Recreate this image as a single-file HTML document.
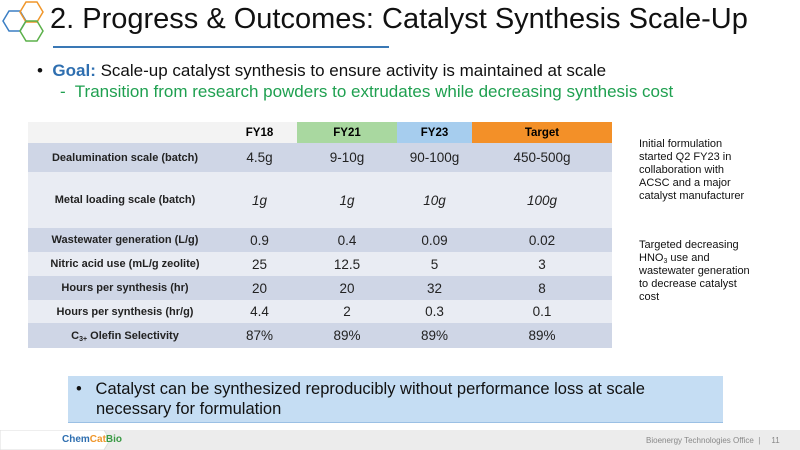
<!DOCTYPE html>
<html><head><meta charset="utf-8"><style>
body{margin:0;width:800px;height:450px;overflow:hidden;background:#fff;font-family:"Liberation Sans",sans-serif;position:relative}
.a{position:absolute}
table{border-collapse:collapse;position:absolute;left:28px;top:122px;width:584px;table-layout:fixed}
td{text-align:center;padding:0;font-size:13.5px;color:#222}
td.l{font-weight:bold;font-size:11px}
tr.d td{background:#cfd6e6}tr.w td{background:#e9ecf3}
th{font-size:11.5px;font-weight:bold;height:21px;padding:0}
.sb{font-size:7px;vertical-align:-2px;line-height:0}
</style></head><body>
<svg class="a" style="left:0;top:0" width="50" height="48">
<polygon points="3,21 9,11 20,11 26,21 20,31 9,31" fill="none" stroke="#3b7fc4" stroke-width="1.5"/>
<polygon points="20,12 26,2 37,2 43,12 37,22 26,22" fill="none" stroke="#f0962a" stroke-width="1.5"/>
<polygon points="20,31 26,21 37,21 43,31 37,41 26,41" fill="none" stroke="#5bb04a" stroke-width="1.5"/>
</svg>
<div class="a" style="left:50px;top:3px;font-size:29px;color:#111">2. Progress &amp; Outcomes: Catalyst Synthesis Scale-Up</div>
<div class="a" style="left:53px;top:46px;width:336px;height:2px;background:#3a78b5"></div>
<div class="a" style="left:37px;top:61px;font-size:17px;color:#111">•&nbsp; <b style="color:#2f6fb0">Goal:</b> Scale-up catalyst synthesis to ensure activity is maintained at scale</div>
<div class="a" style="left:60px;top:82px;font-size:17px;color:#1fa050">-&nbsp; Transition from research powders to extrudates while decreasing synthesis cost</div>
<table>
<colgroup><col style="width:194px"><col style="width:75px"><col style="width:100px"><col style="width:75px"><col style="width:140px"></colgroup>
<tr><th style="background:#f3f3f3"></th><th style="background:#f3f3f3">FY18</th><th style="background:#a9d8a0">FY21</th><th style="background:#a6cdee">FY23</th><th style="background:#f39028">Target</th></tr>
<tr class="d" style="height:29px"><td class="l">Dealumination scale (batch)</td><td>4.5g</td><td>9-10g</td><td>90-100g</td><td>450-500g</td></tr>
<tr class="w" style="height:56px"><td class="l">Metal loading scale (batch)</td><td><i>1g</i></td><td><i>1g</i></td><td><i>10g</i></td><td><i>100g</i></td></tr>
<tr class="d" style="height:24px"><td class="l">Wastewater generation (L/g)</td><td>0.9</td><td>0.4</td><td>0.09</td><td>0.02</td></tr>
<tr class="w" style="height:24px"><td class="l">Nitric acid use (mL/g zeolite)</td><td>25</td><td>12.5</td><td>5</td><td>3</td></tr>
<tr class="d" style="height:24px"><td class="l">Hours per synthesis (hr)</td><td>20</td><td>20</td><td>32</td><td>8</td></tr>
<tr class="w" style="height:23px"><td class="l">Hours per synthesis (hr/g)</td><td>4.4</td><td>2</td><td>0.3</td><td>0.1</td></tr>
<tr class="d" style="height:25px"><td class="l">C<span class="sb">3+</span> Olefin Selectivity</td><td>87%</td><td>89%</td><td>89%</td><td>89%</td></tr>
</table>
<div class="a" style="left:639px;top:138px;font-size:11px;line-height:13px;color:#111">Initial formulation<br>started Q2 FY23 in<br>collaboration with<br>ACSC and a major<br>catalyst manufacturer</div>
<div class="a" style="left:639px;top:239px;font-size:11px;line-height:13px;color:#111">Targeted decreasing<br>HNO<span class="sb">3</span> use and<br>wastewater generation<br>to decrease catalyst<br>cost</div>
<div class="a" style="left:68px;top:376px;width:655px;height:46px;background:#c5ddf3;border-bottom:1px solid #9bc0e4"></div>
<div class="a" style="left:96px;top:379px;font-size:16.5px;line-height:20px;color:#111;width:600px"><span style="margin-left:-20px">•&nbsp;&nbsp; </span>Catalyst can be synthesized reproducibly without performance loss at scale necessary for formulation</div>
<div class="a" style="left:0;top:430px;width:800px;height:20px;background:#ececec"></div>
<svg class="a" style="left:0;top:430px" width="115" height="20"><polygon points="0,0 104,0 110,10 104,20 0,20" fill="#fff" stroke="#ddd"/></svg>
<div class="a" style="left:62px;top:434px;font-size:10px;font-weight:bold;color:#2f6fb0">Chem<span style="color:#f0962a">Cat</span><span style="color:#3a9a45">Bio</span></div>
<div class="a" style="left:646px;top:436px;font-size:8px;color:#888">Bioenergy Technologies Office &nbsp;| &nbsp;&nbsp;&nbsp; 11</div>
</body></html>
